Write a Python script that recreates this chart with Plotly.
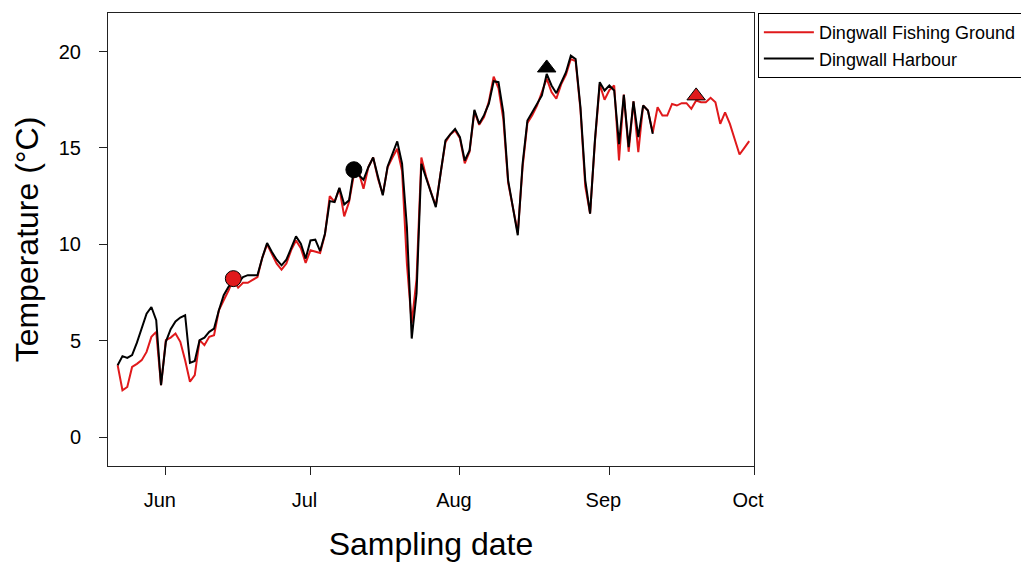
import pandas as pd
import plotly.graph_objects as go

# Daily mean water temperature (°C), starting 22 May
harbour_start = "2013-05-22"
harbour_temp = [
    3.73, 4.2, 4.11, 4.25, 4.9, 5.6, 6.4, 6.75, 6.06, 2.69,
    4.94, 5.6, 6.0, 6.2, 6.32, 3.85, 3.95, 5.03, 5.16, 5.46,
    5.63, 6.58, 7.36, 7.8, 8.1, 8.0, 8.3, 8.4, 8.4, 8.4,
    9.3, 10.07, 9.6, 9.2, 8.91, 9.2, 9.8, 10.41, 10.03, 9.26,
    10.2, 10.24, 9.65, 10.55, 12.24, 12.19, 12.93, 12.07, 12.28, 13.85,
    13.6, 13.35, 14.0, 14.5, 13.5, 12.54, 14.04, 14.7, 15.34, 14.18,
    10.9, 5.11, 7.45, 14.18, 13.4, 12.6, 11.93, 13.7, 15.39, 15.7,
    15.99, 15.56, 14.35, 14.87, 16.98, 16.25, 16.7, 17.3, 18.46, 18.41,
    16.85, 13.32, 11.9, 10.47, 14.18, 16.42, 16.85, 17.3, 17.72, 18.84,
    18.24, 17.84, 18.4, 18.93, 19.79, 19.61, 17.11, 13.32, 11.59, 15.39,
    18.41, 17.98, 18.24, 17.98, 15.2, 17.75, 15.04, 17.42, 15.56, 17.2,
    16.94, 15.73,
]

fishing_start = "2013-05-22"
fishing_temp = [
    3.73, 2.43, 2.6, 3.64, 3.8, 3.99, 4.42, 5.2, 5.46, 2.69,
    5.03, 5.16, 5.37, 4.94, 3.99, 2.87, 3.21, 5.03, 4.77, 5.2,
    5.28, 6.58, 7.1, 7.6, 8.2, 7.75, 8.0, 8.0, 8.15, 8.3,
    9.3, 10.0, 9.5, 9.0, 8.69, 9.0, 9.7, 10.2, 9.8, 9.03,
    9.69, 9.6, 9.55, 10.5, 12.5, 12.2, 12.9, 11.45, 12.19, 13.6,
    13.75, 12.88, 14.0, 14.5, 13.4, 12.6, 14.0, 14.5, 14.96, 13.8,
    9.0, 5.9, 8.2, 14.5, 13.5, 12.7, 12.0, 13.7, 15.3, 15.7,
    15.9, 15.5, 14.2, 14.8, 16.9, 16.2, 16.6, 17.4, 18.7, 18.1,
    16.5, 13.2, 11.8, 10.6, 14.0, 16.3, 16.7, 17.2, 17.9, 18.6,
    17.9, 17.55, 18.3, 18.8, 19.61, 19.5, 17.0, 13.0, 11.6, 15.3,
    18.3, 17.5, 18.0, 18.24, 14.35, 17.77, 14.8, 17.42, 14.78, 17.2,
    16.94, 15.8, 17.11, 16.68, 16.68, 17.28, 17.2, 17.32, 17.32, 17.03,
    17.46, 17.37, 17.37, 17.6, 17.37, 16.25, 16.85, 16.25, 15.45, 14.66,
    15.0, 15.35,
]

# Highlighted sampling events
event_dates = ["2013-06-15", "2013-07-10", "2013-08-19", "2013-09-19"]
event_temp = [8.22, 13.87, 19.15, 17.7]
event_symbols = ["circle", "circle", "triangle-up", "triangle-up"]
event_colors = ["#e0191b", "#000000", "#000000", "#e0191b"]

x_range = ["2013-05-20", "2013-10-01"]
y_range = [-1.5, 22]
y_ticks = [0, 5, 10, 15, 20]

RED = "#e0191b"
FONT = "Liberation Sans, Arial, sans-serif"

harbour_dates = pd.date_range(harbour_start, periods=len(harbour_temp), freq="D")
fishing_dates = pd.date_range(fishing_start, periods=len(fishing_temp), freq="D")

fig = go.Figure()
fig.add_trace(go.Scatter(
    x=fishing_dates, y=fishing_temp, mode="lines",
    name="Dingwall Fishing Ground",
    line=dict(color=RED, width=2),
))
fig.add_trace(go.Scatter(
    x=harbour_dates, y=harbour_temp, mode="lines",
    name="Dingwall Harbour",
    line=dict(color="#000000", width=2),
))
fig.add_trace(go.Scatter(
    x=pd.to_datetime(event_dates), y=event_temp, mode="markers",
    showlegend=False,
    marker=dict(symbol=event_symbols, color=event_colors, size=16,
                line=dict(color="#000000", width=1)),
))

fig.update_layout(
    width=1021, height=567,
    margin=dict(l=108, r=267, t=13, b=101, autoexpand=False),
    paper_bgcolor="white", plot_bgcolor="white",
    font=dict(family=FONT, color="#000000"),
    showlegend=True,
    legend=dict(
        x=1.006, y=1.0, xanchor="left", yanchor="top",
        bordercolor="#000000", borderwidth=1,
        font=dict(size=18, family=FONT),
        tracegroupgap=0,
        itemwidth=50,
    ),
)

fig.update_xaxes(
    range=x_range, type="date",
    tick0="2013-06-01", dtick="M1", tickformat="%b",
    ticks="outside", ticklen=8, tickwidth=1, tickcolor="#222",
    showline=True, linecolor="#222", linewidth=1, mirror=True,
    showgrid=False, zeroline=False,
    tickfont=dict(size=20, family=FONT),
    ticklabelstandoff=8, ticklabelshift=-6,
    title=dict(text="Sampling date", font=dict(size=32, family=FONT), standoff=22),
)
fig.update_yaxes(
    range=y_range, tickvals=y_ticks,
    ticks="outside", ticklen=8, tickwidth=1, tickcolor="#222",
    showline=True, linecolor="#222", linewidth=1, mirror=True,
    showgrid=False, zeroline=False,
    tickfont=dict(size=20, family=FONT),
    ticklabelstandoff=14,
    title=dict(text="Temperature (°C)", font=dict(size=32, family=FONT), standoff=10),
)

fig.write_html("out.html")
